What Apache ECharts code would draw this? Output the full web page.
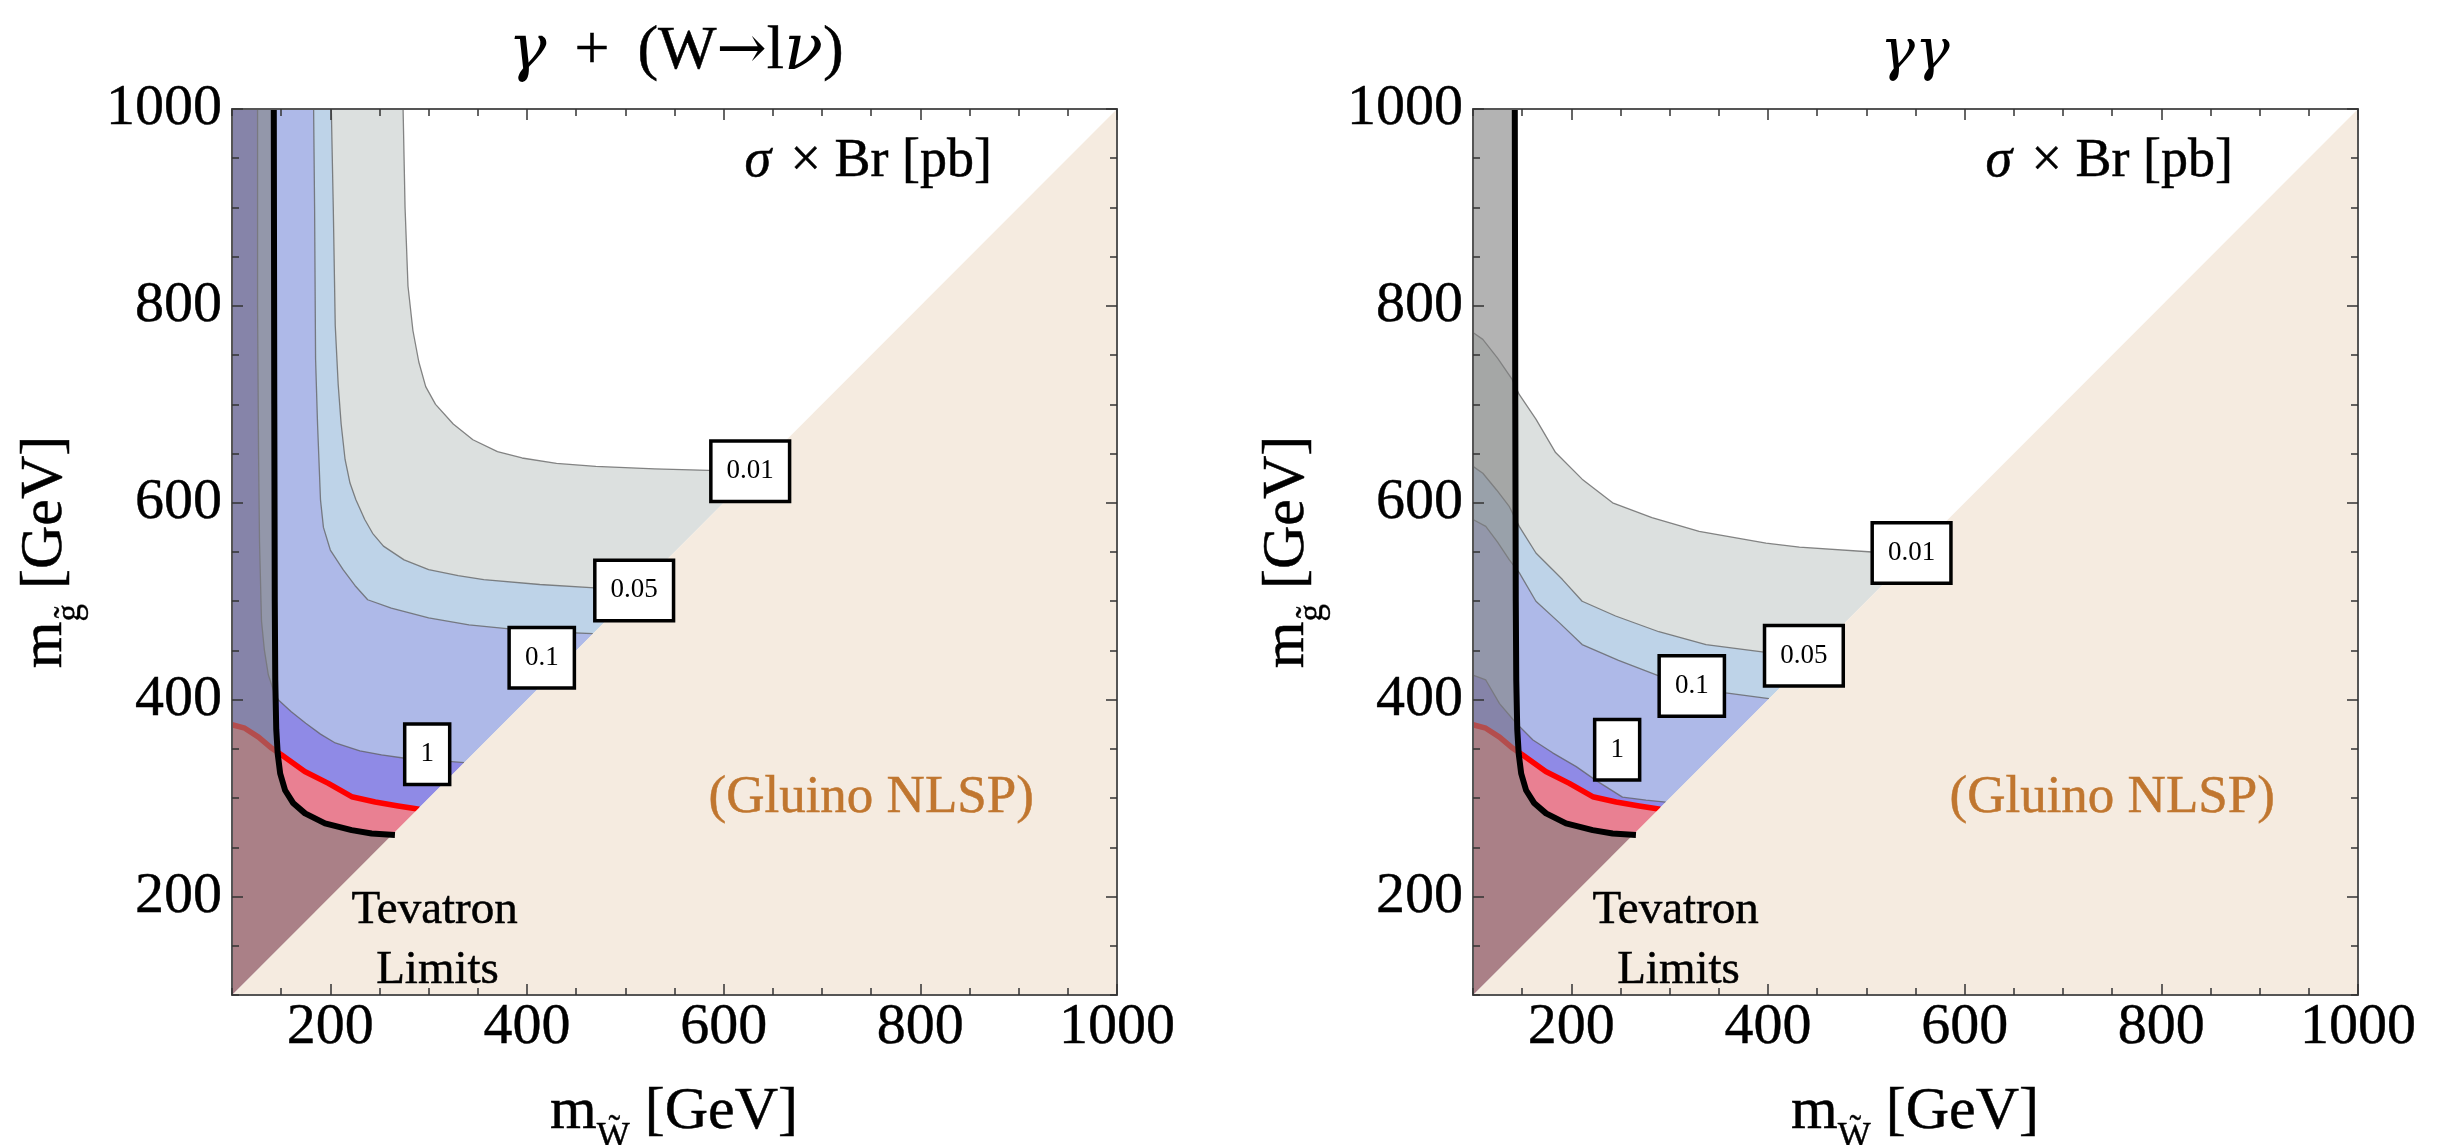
<!DOCTYPE html>
<html><head><meta charset="utf-8">
<script src="https://cdn.jsdelivr.net/npm/echarts@6/dist/echarts.min.js"></script>
<style>html,body{margin:0;padding:0;background:#fff;}#c{width:2446px;height:1145px;}</style>
</head><body><div id="c"></div>
<script>
// ---------- axis ranges / ticks ----------
const AX_MIN = 100, AX_MAX = 1000;
const tickMinorStep = 50;
const tickMajorValues = [200, 400, 600, 800, 1000];
const tickLabelValues = [200, 400, 600, 800, 1000];

// ---------- panel 1: gamma + (W -> l nu) contours of sigma x Br [pb] ----------
const wlnu_c001 = [[274,1000],[276,900],[279,820],[284,775],[290,743],[297,718],[307,700],[325,680],[345,664],[370,652],[395,645.5],[430,640],[470,637],[530,634.5],[585,633],[632,632]];
const wlnu_c005 = [[201,1000],[203,900],[205,780],[208,720],[211,680],[215,644],[220,620],[226,603],[235,583],[243,569],[254,556],[275,542],[300,532],[330,526],[356,522],[413,517],[469,513.5],[513,513]];
const wlnu_c01  = [[183,1000],[184,900],[185,746],[187,680],[190,603],[193,575],[200,552],[213,532],[225,516],[238,501.5],[262,493],[300,483],[341,476],[382,472],[420,469],[467,467]];
const wlnu_c1   = [[126,1000],[126,800],[127,650],[128,560],[130,480],[133,450],[137,425],[142,410],[147,400],[160,388],[175,376],[190,365],[205,356],[230,348],[252,344],[276,340.5],[300,339],[336,336]];
const wlnu_labels = [[627,632,'0.01'],[509,511,'0.05'],[415,442.5,'0.1'],[298.5,344.6,'1']];

// ---------- panel 2: gamma gamma ----------
const gg_c001 = [[100,773],[110,766],[125,747],[140,725],[147,710],[164,685],[184,651],[211,624],[242,600],[282,585],[330,571],[398,559],[432,555],[506,550],[549,549]];
const gg_c005 = [[100,637],[110,630],[124,613],[137,596],[147,576],[164,549],[191,522],[211,500],[245,485],[289,469],[337,456],[398,448],[446,446]];
const gg_c01  = [[100,583],[113,576],[125,560],[137,542],[147,529],[164,500],[188,478],[211,456],[248,440],[287,425],[322,415],[357,407],[401,401]];
const gg_c1   = [[100,425],[113,420],[127,396],[144,376],[161,359],[181,346],[205,332],[225,318],[252,301],[276,298],[296,296]];
const gg_labels = [[546,549,'0.01'],[436.5,444.5,'0.05'],[322.5,414,'0.1'],[246.6,349,'1']];

// ---------- Tevatron limits (both panels) ----------
const tevRed   = [[100,374.5],[113,371],[127,362],[140.5,350.6],[150.6,343.8],[174,327],[198,315],[221.7,301.4],[245.6,296],[269,292],[290.5,288.6]];
const tevBlack = [[142.5,1000],[143,700],[143.5,500],[144,420],[145,370],[146.5,345],[149,325],[154,308],[162.4,294.7],[174.3,284.5],[194.6,274.4],[221.7,267.5],[242,264],[265.7,262.6]];

// ---------- annotation texts ----------
const panelTitles = ['{g|γ}{n|\u2009 + \u2009(W}{a|→}{n|l}{g|ν}{n|)}', '{g|γγ}'];
const xTitleSub = 'W\u0303', yTitleSub = 'g\u0303';

// ---------- styles ----------
const SERIF = "'Liberation Serif','Times New Roman',serif";
const GREEK = "'DejaVu Serif','Liberation Serif',serif";
const COL = {
  c001:'#dce0df', c005:'#bed3e8', c01:'#aeb9e8', c1:'#8f8ae6',
  contour:'rgba(95,95,95,0.75)', redFill:'rgba(255,125,125,0.8)', overlay:'rgba(128,128,128,0.6)',
  beige:'#f5ebe0', gluino:'#c0762f'
};
const GRIDS = [{left:232, top:109, width:885, height:886},{left:1473, top:109, width:885, height:886}];

function axisSet(gi, dim) {
  const isX = dim === 'x';
  const base = {type:'value', min:AX_MIN, max:AX_MAX, gridIndex:gi, splitLine:{show:false}, z:20};
  const tickStyle = {color:'#333', width:1.5};
  const lineStyle = {color:'#555', width:2};
  const pos = isX ? ['bottom','top'] : ['left','right'];
  const labelFmt = v => tickLabelValues.includes(v) ? String(v) : '';
  return [
    Object.assign({}, base, {position:pos[0], interval:tickMinorStep,
      axisLine:{show:true, onZero:false, lineStyle},
      axisTick:{show:true, inside:true, length:7, lineStyle:tickStyle},
      axisLabel:{show:true, interval:0, margin: isX ? 4 : 10, fontFamily:SERIF, fontSize:58, color:'#000',
        textBorderColor:'#000', textBorderWidth:0.4, formatter:labelFmt}}),
    Object.assign({}, base, {position:pos[0], axisLine:{show:false, onZero:false},
      axisTick:{show:true, inside:true, length:11, customValues:tickMajorValues, lineStyle:tickStyle},
      axisLabel:{show:false}}),
    Object.assign({}, base, {position:pos[1], interval:tickMinorStep,
      axisLine:{show:true, onZero:false, lineStyle},
      axisTick:{show:true, inside:true, length:7, lineStyle:tickStyle}, axisLabel:{show:false}}),
    Object.assign({}, base, {position:pos[1], axisLine:{show:false, onZero:false},
      axisTick:{show:true, inside:true, length:11, customValues:tickMajorValues, lineStyle:tickStyle},
      axisLabel:{show:false}})
  ];
}

function polySeries(gi, pts, fill, z) {
  return {type:'custom', xAxisIndex:gi*4, yAxisIndex:gi*4, z, silent:true, clip:true, data:pts,
    renderItem(params, api) {
      if (params.dataIndex !== 0) return null;
      return {type:'polygon', shape:{points: pts.map(p => api.coord(p))}, style:{fill}};
    }};
}
function lineSeries(gi, pts, color, width, z) {
  return {type:'line', xAxisIndex:gi*4, yAxisIndex:gi*4, z, silent:true, data:pts, showSymbol:false, symbol:'none',
    clip:true, lineStyle:{color, width, cap:'butt', join:'round'}};
}
function closeToEdge(c) { return c.concat([[AX_MIN,AX_MIN],[AX_MIN,AX_MAX]]); }

function panelSeries(gi, contours, labels) {
  const s = [];
  const fills = [COL.c001, COL.c005, COL.c01, COL.c1];
  contours.forEach((c, k) => s.push(polySeries(gi, closeToEdge(c), fills[k], 1 + k * 0.1)));
  contours.forEach(c => s.push(lineSeries(gi, c, COL.contour, 1.3, 2)));
  s.push(polySeries(gi, tevRed.concat([[AX_MIN,AX_MIN]]), COL.redFill, 3));
  s.push(lineSeries(gi, tevRed, '#ff0000', 5.5, 3.5));
  s.push(polySeries(gi, closeToEdge(tevBlack), COL.overlay, 4));
  s.push(polySeries(gi, [[AX_MIN,AX_MIN],[AX_MAX,AX_MAX],[AX_MAX,AX_MIN]], COL.beige, 5));
  s.push(lineSeries(gi, tevBlack, '#000', 6, 6));
  // contour value boxes
  s.push({type:'scatter', xAxisIndex:gi*4, yAxisIndex:gi*4, z:7, silent:true, symbolSize:0, itemStyle:{opacity:1}, data:labels,
    label:{show:true, position:'inside', formatter:p => p.value[2], fontFamily:SERIF, fontSize:27, lineHeight:27,
      color:'#000', backgroundColor:'#fff', borderColor:'#000', borderWidth:3.5, padding:[15,14,15,14]}});
  // in-plot annotations
  const ann = [
    {value:[747,946.5], text:'{i|σ} × Br [pb]', size:54, color:'#000'},
    {value:[750,300], text:'(Gluino NLSP)', size:53, color:COL.gluino},
    {value:[306,186], text:'Tevatron', size:47, color:'#000'},
    {value:[309,125], text:'Limits', size:47, color:'#000'}
  ];
  s.push({type:'scatter', xAxisIndex:gi*4, yAxisIndex:gi*4, z:8, silent:true, symbolSize:0, itemStyle:{opacity:1},
    data: ann.map(a => ({value:a.value, label:{show:true, position:'inside', formatter:a.text, fontFamily:SERIF, fontSize:a.size, color:a.color,
      textBorderColor:a.color, textBorderWidth:0.5,
      rich:{i:{fontFamily:SERIF, fontSize:a.size, fontStyle:'italic', color:a.color, textBorderColor:a.color, textBorderWidth:0.5, padding:[0,6,0,0]}}}}))});
  return s;
}

function axisTitle(x, y, sub, rot) {
  return {type:'text', x, y, rotation:rot || 0, z:50,
    style:{text:'{m|m}{s|' + sub + '}{m| [GeV]}', align:'center', verticalAlign:'middle',
      rich:{m:{fontFamily:SERIF, fontSize:60, lineHeight:60, verticalAlign:'top', fill:'#000', stroke:'#000', lineWidth:0.5},
            s:{fontFamily:SERIF, fontSize:35, lineHeight:35, padding:[38,0,0,0], verticalAlign:'top', fill:'#000', stroke:'#000', lineWidth:0.4}}}};
}
function titleText(x, y, t, gSize) {
  return {type:'text', x, y, z:50, style:{text:t, align:'center', verticalAlign:'middle', fill:'#000',
    rich:{
      n:{fontFamily:SERIF, fontSize:62, lineHeight:74, verticalAlign:'middle', fill:'#000', stroke:'#000', lineWidth:0.5},
      a:{fontFamily:GREEK, fontSize:60, lineHeight:74, verticalAlign:'middle', fill:'#000'},
      g:{fontFamily:GREEK, fontSize:gSize, lineHeight:74, fontStyle:'italic', verticalAlign:'middle', fill:'#000'}
    }}};
}

const chart = echarts.init(document.getElementById('c'), null, {renderer:'canvas'});
const option = {
  animation:false,
  backgroundColor:'#fff',
  grid: GRIDS.map(g => Object.assign({outerBoundsMode:'none', containLabel:false}, g)),
  xAxis: [].concat(axisSet(0,'x'), axisSet(1,'x')),
  yAxis: [].concat(axisSet(0,'y'), axisSet(1,'y')),
  series: [].concat(
    panelSeries(0, [wlnu_c001, wlnu_c005, wlnu_c01, wlnu_c1], wlnu_labels),
    panelSeries(1, [gg_c001, gg_c005, gg_c01, gg_c1], gg_labels)
  ),
  graphic: [
    titleText(676, 52, panelTitles[0], 64),
    titleText(1915, 54, panelTitles[1], 58),
    axisTitle(674, 1112, xTitleSub, 0),
    axisTitle(1915, 1112, xTitleSub, 0),
    axisTitle(45, 552, yTitleSub, Math.PI/2),
    axisTitle(1287, 552, yTitleSub, Math.PI/2)
  ]
};
chart.setOption(option);
</script></body></html>
